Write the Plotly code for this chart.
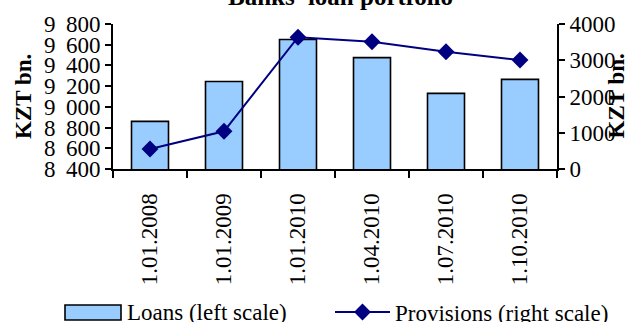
import plotly.graph_objects as go

# Banks' loan portfolio, KZT bn.
dates = ["1.01.2008", "1.01.2009", "1.01.2010", "1.04.2010", "1.07.2010", "1.10.2010"]
loans = [8860, 9245, 9650, 9475, 9130, 9265]
provisions = [550, 1040, 3635, 3510, 3235, 3005]

left_ticks = [8400, 8600, 8800, 9000, 9200, 9400, 9600, 9800]
right_ticks = [0, 1000, 2000, 3000, 4000]
# thousands separated by a slightly wide space
left_labels = [f"{v // 1000}\u00a0\u2009{v % 1000:03d}" for v in left_ticks]

BAR_FILL = "#99CCFF"
LINE_COLOR = "#000080"
FONT = "Liberation Serif, Times New Roman, serif"
TXT = dict(family=FONT, size=23, color="black")

fig = go.Figure()

fig.add_trace(go.Bar(
    x=dates, y=loans, name="Loans (left scale)", showlegend=False,
    marker=dict(color=BAR_FILL, line=dict(color="black", width=1.6)),
    xaxis="x", yaxis="y",
))
fig.add_trace(go.Scatter(
    x=dates, y=provisions, name="Provisions (right scale)", mode="lines+markers",
    line=dict(color=LINE_COLOR, width=2),
    marker=dict(symbol="diamond", size=13, color=LINE_COLOR),
    xaxis="x", yaxis="y2",
))

axis_common = dict(showgrid=False, zeroline=False, linecolor="black", linewidth=2,
                   tickcolor="black", tickwidth=2, tickfont=TXT)
inner_ticks = dict(showticklabels=False, showline=False, showgrid=False, zeroline=False,
                   tickcolor="black", tickwidth=2)

# pixel -> paper helpers for the legend row below the plot
def px_x(p):
    return (p - 113) / 444

def px_y(p):
    return (169 - p) / 145

LEGEND_Y = 312

fig.update_layout(
    width=627, height=322,
    margin=dict(l=113, r=70, t=24, b=153, autoexpand=False),
    paper_bgcolor="white", plot_bgcolor="white",
    font=TXT,
    bargap=0.5,
    showlegend=True,
    xaxis=dict(type="category", tickson="boundaries", ticks="outside", ticklen=7,
               tickangle=-90, ticklabelstandoff=13, showline=True, **axis_common),
    xaxis2=dict(overlaying="x", range=[-0.5, 5.5], tickvals=[-0.5, 0.5, 1.5, 2.5, 3.5, 4.5, 5.5],
                ticks="inside", ticklen=7, **inner_ticks),
    yaxis=dict(range=[8400, 9800], tickvals=left_ticks, ticktext=left_labels,
               ticks="outside", ticklen=6, showline=True, **axis_common),
    yaxis2=dict(range=[0, 4000], tickvals=right_ticks, overlaying="y", side="right",
                ticks="outside", ticklen=6, showline=True, **axis_common),
    yaxis3=dict(range=[8400, 9800], tickvals=left_ticks, overlaying="y", side="left",
                ticks="inside", ticklen=6, **inner_ticks),
    yaxis4=dict(range=[0, 4000], tickvals=right_ticks, overlaying="y", side="right",
                ticks="inside", ticklen=6, **inner_ticks),
    legend=dict(orientation="h", x=px_x(330), xanchor="left", y=px_y(LEGEND_Y), yanchor="middle",
                itemwidth=55, font=TXT, bgcolor="rgba(0,0,0,0)"),
    shapes=[
        dict(type="rect", xref="paper", yref="paper",
             x0=px_x(65), x1=px_x(121), y0=px_y(320), y1=px_y(305),
             fillcolor=BAR_FILL, line=dict(color="black", width=1.6)),
    ],
    annotations=[
        dict(text="Loans (left scale)", xref="paper", yref="paper",
             x=px_x(125), y=px_y(LEGEND_Y), xanchor="left", yanchor="middle", showarrow=False,
             font=TXT),
        dict(text="<b>Banks' loan portfolio</b>", xref="paper", yref="paper",
             x=px_x(340), y=1, xanchor="center", yanchor="middle", yshift=28, showarrow=False,
             font=dict(family=FONT, size=25, color="black")),
        dict(text="<b>KZT bn.</b>", textangle=-90, xref="paper", yref="paper",
             x=0, y=0.5, xanchor="center", yanchor="middle", xshift=-89.5, showarrow=False,
             font=TXT),
        dict(text="<b>KZT bn.</b>", textangle=-90, xref="paper", yref="paper",
             x=1, y=0.5, xanchor="center", yanchor="middle", xshift=59, showarrow=False,
             font=TXT),
    ],
)

fig.write_html("out.html")
